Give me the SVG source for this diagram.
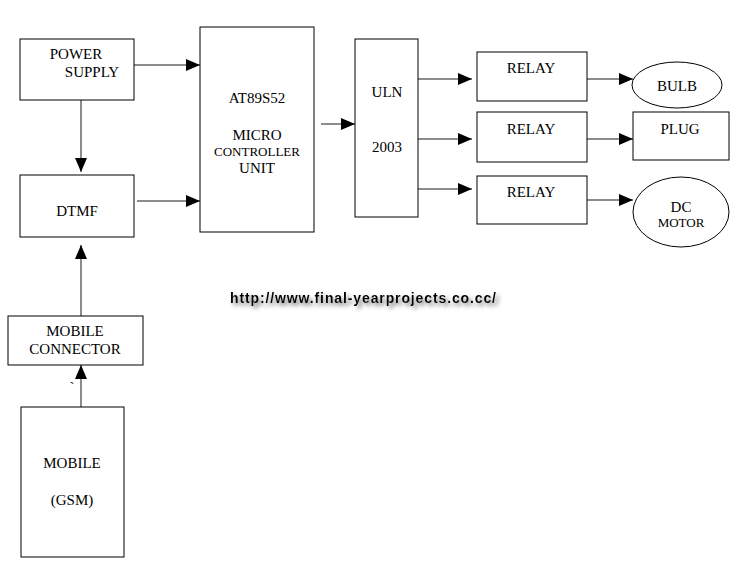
<svg xmlns="http://www.w3.org/2000/svg" width="732" height="565" viewBox="0 0 732 565">
<style>
.box{fill:#fff;stroke:#000;stroke-width:1}
.t{font-family:"Liberation Serif","DejaVu Serif",serif;font-size:15px;fill:#000;text-anchor:middle}
.s{font-size:13px}
.c{stroke:#666;stroke-width:1.5;fill:none;marker-end:url(#ah)}
.url{font-family:"Liberation Sans",Arial,sans-serif;font-weight:bold;font-size:14px}
</style>
<defs>
<marker id="ah" markerUnits="userSpaceOnUse" markerWidth="14" markerHeight="12" refX="14" refY="6" orient="auto">
<path d="M0,0 L14,6 L0,12 z" fill="#000"/>
</marker>
<filter id="sh" x="-10%" y="-60%" width="120%" height="220%">
<feGaussianBlur in="SourceAlpha" stdDeviation="2"/>
<feOffset dx="3" dy="3" result="b"/>
<feFlood flood-color="#777"/>
<feComposite in2="b" operator="in" result="s"/>
<feMerge><feMergeNode in="s"/><feMergeNode in="SourceGraphic"/></feMerge>
</filter>
</defs>
<rect width="732" height="565" fill="#fff"/>
<g id="connectors">
<line class="c" x1="130" y1="65" x2="200" y2="65"/>
<line class="c" x1="81" y1="100" x2="81" y2="172"/>
<line class="c" x1="137" y1="201" x2="200" y2="201"/>
<line class="c" x1="321" y1="124" x2="355" y2="124"/>
<line class="c" x1="418" y1="79" x2="472" y2="79"/>
<line class="c" x1="418" y1="139" x2="472" y2="139"/>
<line class="c" x1="418" y1="189" x2="472" y2="189"/>
<line class="c" x1="587" y1="79" x2="633" y2="79"/>
<line class="c" x1="587" y1="139" x2="633" y2="139"/>
<line class="c" x1="587" y1="200" x2="633" y2="200"/>
<line class="c" x1="81" y1="316" x2="81" y2="245"/>
<line class="c" x1="81" y1="412" x2="81" y2="365"/>
</g>
<g id="power">
<rect class="box" x="20" y="39" width="114" height="61"/>
<text class="t" x="76" y="59">POWER</text>
<text class="t" x="92" y="77">SUPPLY</text>
</g>
<g id="dtmf">
<rect class="box" x="20" y="175" width="114" height="62"/>
<text class="t" x="77" y="216">DTMF</text>
</g>
<g id="mcu">
<rect class="box" x="200" y="27" width="114" height="205"/>
<text class="t" x="257" y="103">AT89S52</text>
<text class="t" x="257" y="140">MICRO</text>
<text class="t s" x="257" y="156">CONTROLLER</text>
<text class="t" x="257" y="173">UNIT</text>
</g>
<g id="uln">
<rect class="box" x="355" y="39" width="63" height="178"/>
<text class="t" x="387" y="97">ULN</text>
<text class="t" x="387" y="152">2003</text>
</g>
<g id="relay1">
<rect class="box" x="477" y="52" width="110" height="49"/>
<text class="t" x="531" y="73">RELAY</text>
</g>
<g id="relay2">
<rect class="box" x="477" y="112" width="110" height="50"/>
<text class="t" x="531" y="134">RELAY</text>
</g>
<g id="relay3">
<rect class="box" x="477" y="176" width="110" height="48"/>
<text class="t" x="531" y="197">RELAY</text>
</g>
<g id="bulb">
<ellipse class="box" cx="677" cy="85" rx="45" ry="23"/>
<text class="t" x="677" y="91">BULB</text>
</g>
<g id="plug">
<rect class="box" x="633" y="112" width="96" height="48"/>
<text class="t" x="680" y="134">PLUG</text>
</g>
<g id="motor">
<ellipse class="box" cx="681" cy="212" rx="48" ry="35"/>
<text class="t" x="681" y="212">DC</text>
<text class="t s" x="681" y="227">MOTOR</text>
</g>
<g id="mobconn">
<rect class="box" x="8" y="316" width="135" height="49"/>
<text class="t" x="75" y="336">MOBILE</text>
<text class="t" x="75" y="354">CONNECTOR</text>
</g>
<g id="mobile">
<rect class="box" x="21" y="407" width="103" height="150"/>
<text class="t" x="72" y="468">MOBILE</text>
<text class="t" x="72" y="505">(GSM)</text>
</g>
<text class="t" x="72" y="392" font-size="10">`</text>
<g id="url">
<text class="url" x="230" y="303" fill="#000" textLength="266" filter="url(#sh)">http://www.final-yearprojects.co.cc/</text>
</g>
</svg>
